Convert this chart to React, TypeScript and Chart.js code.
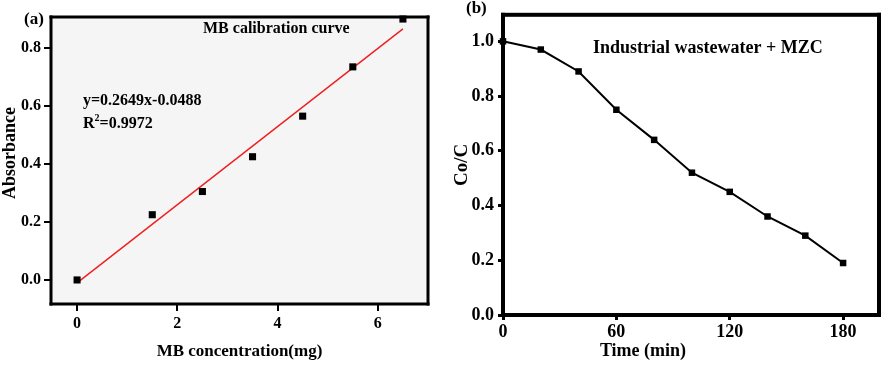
import React, { useEffect, useRef } from "react";
import { Chart, registerables } from "chart.js";
Chart.register(...registerables);

// Panel (a): MB calibration
const concentration = [0, 1.5, 2.5, 3.5, 4.5, 5.5, 6.5];
const absorbance = [0.0, 0.225, 0.305, 0.425, 0.565, 0.735, 0.9];
const fitX = [0, 6.5];
const fitY = [-0.01, 0.866];
const xTicksA = [0, 2, 4, 6];
const yTicksA = [0, 0.2, 0.4, 0.6, 0.8];

// Panel (b): degradation
const timeMin = [0, 20, 40, 60, 80, 100, 120, 140, 160, 180];
const ratio = [1.0, 0.97, 0.89, 0.75, 0.64, 0.52, 0.45, 0.36, 0.29, 0.19];
const xTicksB = [0, 60, 120, 180];
const yTicksB = [0, 0.2, 0.4, 0.6, 0.8, 1.0];

const SERIF = '"Liberation Serif", "Times New Roman", serif';

function setTicks(values: number[]) {
  return (scale: any) => {
    scale.ticks = values.map((v) => ({ value: v }));
  };
}

function frame(ctx: CanvasRenderingContext2D, a: any, w: number) {
  ctx.save();
  ctx.fillStyle = "#000";
  const h = w / 2;
  ctx.fillRect(a.left - h, a.top - h, a.right - a.left + w, w);
  ctx.fillRect(a.left - h, a.bottom - h, a.right - a.left + w, w);
  ctx.fillRect(a.left - h, a.top - h, w, a.bottom - a.top + w);
  ctx.fillRect(a.right - h, a.top - h, w, a.bottom - a.top + w);
  ctx.restore();
}

const panelAPlugin = {
  id: "panelA",
  beforeDraw(chart: any) {
    const { ctx, chartArea: a } = chart;
    ctx.save();
    ctx.fillStyle = "#f5f5f5";
    ctx.fillRect(a.left, a.top, a.right - a.left, a.bottom - a.top);
    ctx.restore();
  },
  afterDraw(chart: any) {
    const { ctx, chartArea: a } = chart;
    frame(ctx, a, 3);
    ctx.save();
    ctx.fillStyle = "#000";
    ctx.textBaseline = "middle";
    ctx.textAlign = "left";
    ctx.font = `bold 17px ${SERIF}`;
    ctx.fillText("(a)", 24, 20);
    ctx.font = `bold 16px ${SERIF}`;
    ctx.fillText("MB calibration curve", 203, 29);
    ctx.fillText("y=0.2649x-0.0488", 83, 101);
    ctx.fillText("R", 83, 124);
    const rw = ctx.measureText("R").width;
    ctx.font = `bold 10px ${SERIF}`;
    ctx.fillText("2", 83 + rw, 118);
    const sw = ctx.measureText("2").width;
    ctx.font = `bold 16px ${SERIF}`;
    ctx.fillText("=0.9972", 83 + rw + sw, 124);
    ctx.translate(10, 153);
    ctx.rotate(-Math.PI / 2);
    ctx.textAlign = "center";
    ctx.font = `bold 18px ${SERIF}`;
    ctx.fillText("Absorbance", 0, 0);
    ctx.restore();
  },
};

const panelBPlugin = {
  id: "panelB",
  beforeDatasetsDraw(chart: any) {
    const { ctx, chartArea: a } = chart;
    frame(ctx, a, 4);
  },
  afterDraw(chart: any) {
    const { ctx } = chart;
    ctx.save();
    ctx.fillStyle = "#000";
    ctx.textBaseline = "middle";
    ctx.textAlign = "left";
    ctx.font = `bold 17px ${SERIF}`;
    ctx.fillText("(b)", 21, 9);
    ctx.font = `bold 18px ${SERIF}`;
    ctx.fillText("Industrial wastewater + MZC", 148, 48);
    ctx.textAlign = "center";
    ctx.fillText("Time (min)", 198, 351);
    ctx.restore();
  },
};

export default function App() {
  const refA = useRef<HTMLCanvasElement>(null);
  const refB = useRef<HTMLCanvasElement>(null);

  useEffect(() => {
    const chartA = new Chart(refA.current!, {
      type: "scatter",
      data: {
        datasets: [
          {
            type: "line",
            data: fitX.map((x, i) => ({ x, y: fitY[i] })),
            borderColor: "rgb(240,30,30)",
            borderWidth: 1.4,
            pointRadius: 0,
            fill: false,
            order: 2,
          } as any,
          {
            data: concentration.map((x, i) => ({ x, y: absorbance[i] })),
            pointStyle: "rect",
            pointRadius: 5,
            pointBackgroundColor: "#000",
            pointBorderColor: "#000",
            pointBorderWidth: 0,
            clip: false,
            order: 1,
          } as any,
        ],
      },
      options: {
        animation: false,
        responsive: false,
        layout: { padding: { top: 17, right: 17, left: 0, bottom: 0 } },
        plugins: { legend: { display: false }, tooltip: { enabled: false } },
        scales: {
          x: {
            type: "linear",
            min: -0.52,
            max: 7.0,
            afterBuildTicks: setTicks(xTicksA),
            afterFit: (s: any) => { s.height = 61; },
            grid: { drawOnChartArea: false, drawTicks: true, tickLength: 7, color: "#000", lineWidth: 2 },
            border: { display: false },
            ticks: { color: "#000", font: { family: SERIF, size: 16, weight: "bold" }, padding: 3, callback: (v: any) => String(v) },
            title: { display: true, text: "MB concentration(mg)", color: "#000", font: { family: SERIF, size: 17, weight: "bold" }, padding: { top: 0, bottom: 3 } },
          },
          y: {
            type: "linear",
            min: -0.083,
            max: 0.907,
            afterBuildTicks: setTicks(yTicksA),
            afterFit: (s: any) => { s.width = 51; },
            grid: { drawOnChartArea: false, drawTicks: true, tickLength: 7, color: "#000", lineWidth: 2 },
            border: { display: false },
            ticks: { color: "#000", font: { family: SERIF, size: 16, weight: "bold" }, padding: 3, callback: (v: any) => Number(v).toFixed(1) },
            title: { display: false },
          },
        },
      } as any,
      plugins: [panelAPlugin],
    });

    const chartB = new Chart(refB.current!, {
      type: "line",
      data: {
        datasets: [
          {
            data: timeMin.map((x, i) => ({ x, y: ratio[i] })),
            borderColor: "#000",
            borderWidth: 2,
            pointStyle: "rect",
            pointRadius: 4.6,
            pointBackgroundColor: "#000",
            pointBorderColor: "#000",
            pointBorderWidth: 0,
            fill: false,
            tension: 0,
            clip: false,
          } as any,
        ],
      },
      options: {
        animation: false,
        responsive: false,
        layout: { padding: { top: 11, right: 6, left: 0, bottom: 0 } },
        plugins: { legend: { display: false }, tooltip: { enabled: false } },
        scales: {
          x: {
            type: "linear",
            min: 0,
            max: 199,
            afterBuildTicks: setTicks(xTicksB),
            afterFit: (s: any) => { s.height = 50; },
            grid: { drawOnChartArea: false, drawTicks: true, tickLength: 5, color: "#000", lineWidth: 3 },
            border: { display: false },
            ticks: { color: "#000", font: { family: SERIF, size: 18, weight: "bold" }, padding: 2, callback: (v: any) => String(v) },
            title: { display: false },
          },
          y: {
            type: "linear",
            min: 0,
            max: 1.097,
            afterBuildTicks: setTicks(yTicksB),
            afterFit: (s: any) => { s.width = 58; },
            grid: { drawOnChartArea: false, drawTicks: true, tickLength: 5, color: "#000", lineWidth: 3 },
            border: { display: false },
            ticks: { color: "#000", font: { family: SERIF, size: 18, weight: "bold" }, padding: 4, callback: (v: any) => Number(v).toFixed(1) },
            title: { display: true, text: "Co/C", color: "#000", font: { family: SERIF, size: 19, weight: "bold" }, padding: { top: 6, bottom: 0 } },
          },
        },
      } as any,
      plugins: [panelBPlugin],
    });

    return () => {
      chartA.destroy();
      chartB.destroy();
    };
  }, []);

  return (
    <div style={{ position: "fixed", left: 0, top: 0, width: 885, height: 365, background: "#fff" }}>
      <canvas ref={refA} width={445} height={365} style={{ position: "absolute", left: 0, top: 0, width: 445, height: 365 }} />
      <canvas ref={refB} width={440} height={365} style={{ position: "absolute", left: 445, top: 0, width: 440, height: 365 }} />
    </div>
  );
}
